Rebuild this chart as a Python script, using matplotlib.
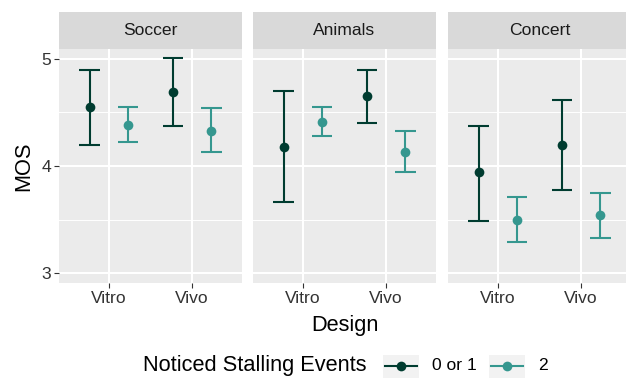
import numpy as np
import matplotlib
matplotlib.use("Agg")
import matplotlib.pyplot as plt
from matplotlib.patches import Rectangle
from matplotlib.lines import Line2D

plt.rcParams['font.family'] = ['Liberation Sans', 'DejaVu Sans']

scenes = ["Soccer", "Animals", "Concert"]
designs = ["Vitro", "Vivo"]
groups = ["0 or 1", "2"]
colors = {"0 or 1": "#003c30", "2": "#35978f"}

# rows = scene, cols = design
mos_mean = {
    "0 or 1": [[4.55, 4.69], [4.18, 4.65], [3.94, 4.20]],
    "2":      [[4.38, 4.33], [4.41, 4.13], [3.50, 3.54]],
}
mos_low = {
    "0 or 1": [[4.20, 4.37], [3.66, 4.40], [3.49, 3.78]],
    "2":      [[4.22, 4.13], [4.28, 3.94], [3.29, 3.33]],
}
mos_high = {
    "0 or 1": [[4.90, 5.01], [4.70, 4.90], [4.37, 4.62]],
    "2":      [[4.55, 4.54], [4.55, 4.33], [3.71, 3.75]],
}

W, H = 626, 381
fig = plt.figure(figsize=(W / 100, H / 100), dpi=100)


def rect(x0, y0, x1, y1):
    # pixel box (top-left origin) -> figure fraction
    return [x0 / W, 1 - y1 / H, (x1 - x0) / W, (y1 - y0) / H]


panel_left = [59, 253, 448]
panel_w = 183
top, bottom = 49, 283
dodge = 0.23
cap = 0.125

for i, scene in enumerate(scenes):
    x0 = panel_left[i]
    ax = fig.add_axes(rect(x0, top, x0 + panel_w, bottom))
    ax.set_facecolor("#EBEBEB")
    for s in ax.spines.values():
        s.set_visible(False)
    ax.set_xlim(0.4, 2.6)
    ax.set_ylim(2.907, 5.093)
    ax.set_yticks([3, 4, 5])
    ax.set_yticks([3.5, 4.5], minor=True)
    ax.set_xticks([1, 2])
    ax.set_xticklabels(designs)
    ax.grid(which="major", color="white", linewidth=1.45)
    ax.grid(which="minor", axis="y", color="white", linewidth=0.7)
    ax.set_axisbelow(True)
    ax.tick_params(axis="both", which="major", length=3.6, width=0.8,
                   color="#333333", labelcolor="#333333", labelsize=12.6, pad=2)
    ax.tick_params(which="minor", length=0)
    if i > 0:
        ax.tick_params(axis="y", left=False, labelleft=False)
    else:
        ax.set_ylabel("MOS", fontsize=15.7, labelpad=5)

    for g, off in zip(groups, [-dodge, dodge]):
        for j in range(len(designs)):
            x = j + 1 + off
            m = mos_mean[g][i][j]
            lo = mos_low[g][i][j]
            hi = mos_high[g][i][j]
            c = colors[g]
            ax.plot([x, x], [lo, hi], color=c, linewidth=1.5, solid_capstyle="butt")
            ax.plot([x - cap, x + cap], [lo, lo], color=c, linewidth=1.5, solid_capstyle="butt")
            ax.plot([x - cap, x + cap], [hi, hi], color=c, linewidth=1.5, solid_capstyle="butt")
            ax.plot([x], [m], "o", color=c, markersize=7, markeredgewidth=0)

    sx = fig.add_axes(rect(x0, 12, x0 + panel_w, top))
    sx.set_facecolor("#D9D9D9")
    sx.set_xticks([])
    sx.set_yticks([])
    for s in sx.spines.values():
        s.set_visible(False)
    sx.text(0.5, 0.5, scene, ha="center", va="center", fontsize=12.6,
            color="#1A1A1A", transform=sx.transAxes)

fig.text(345 / W, 1 - 326 / H, "Design", ha="center", va="center", fontsize=15.7)

# legend drawn along the bottom
ly = 1 - 366 / H
fig.text(143 / W, ly, "Noticed Stalling Events", ha="left", va="center", fontsize=15.7)
key_x = [383, 489]
lab_x = [432, 538]
for g, kx, tx in zip(groups, key_x, lab_x):
    fig.patches.append(Rectangle(((kx) / W, 1 - 378 / H), 36 / W, 23 / H,
                                 transform=fig.transFigure, facecolor="#F2F2F2",
                                 edgecolor="none"))
    fig.lines.append(Line2D([(kx + 2) / W, (kx + 34) / W], [ly, ly],
                            transform=fig.transFigure, color=colors[g], linewidth=1.5))
    fig.lines.append(Line2D([(kx + 18) / W], [ly], transform=fig.transFigure,
                            color=colors[g], marker="o", markersize=7,
                            markeredgewidth=0))
    fig.text(tx / W, ly, g, ha="left", va="center", fontsize=12.6)

fig.savefig("out.png", dpi=100)
